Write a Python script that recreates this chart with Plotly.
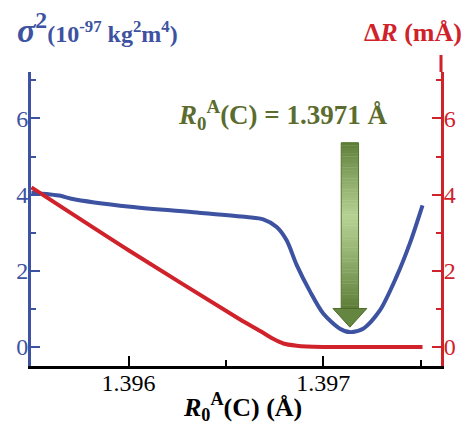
import plotly.graph_objects as go
import numpy as np

# ---- data ----
r0 = [1.395501, 1.395650, 1.395701, 1.396009, 1.396351, 1.396607, 1.396692, 1.396761,
      1.396812, 1.396864, 1.396932, 1.397000, 1.397086, 1.397137, 1.397205, 1.397291,
      1.397376, 1.397445, 1.397510]
sigma2 = [4.05, 3.97, 3.90, 3.68, 3.53, 3.41, 3.35, 3.15, 2.80, 2.15, 1.46, 0.88, 0.48,
          0.39, 0.48, 0.96, 1.84, 2.72, 3.72]

r0_red = [1.395501, 1.396000, 1.396573, 1.396676, 1.396740, 1.396795, 1.396864,
          1.396915, 1.397000, 1.397200, 1.397510]
deltaR = [4.19, 2.54, 0.72, 0.42, 0.22, 0.09, 0.03, 0.01, 0.0, 0.0, 0.0]

x_ticks = [1.396, 1.397]
x_tick_labels = ["1.396", "1.397"]
y_ticks = [0, 2, 4, 6]
best_label = "1.3971 Å"

BLUE = "#3d52a1"
RED = "#d0222b"
GREEN_TXT = "#5b6c2e"
FONT = "Liberation Serif"

fig = go.Figure()
fig.add_trace(go.Scatter(x=r0, y=sigma2, mode="lines", line=dict(color=BLUE, width=4, shape="spline", smoothing=0.8),
                         yaxis="y", showlegend=False, hoverinfo="skip"))
fig.add_trace(go.Scatter(x=r0_red, y=deltaR, mode="lines", line=dict(color=RED, width=4, shape="spline", smoothing=0.6),
                         yaxis="y2", showlegend=False, hoverinfo="skip"))

# ---- gradient arrow pointing at minimum ----
imin = int(np.argmin(sigma2))
xc = r0[imin]
tip = sigma2[imin] + 0.13
head_top = tip + 0.49
shaft_top = 5.36
shaft_hw = 0.0000445
head_hw = 0.000087

def lerp(c1, c2, t):
    a = [int(c1[i:i+2], 16) for i in (1, 3, 5)]
    b = [int(c2[i:i+2], 16) for i in (1, 3, 5)]
    return "rgb(%d,%d,%d)" % tuple(round(a[k] + (b[k] - a[k]) * t) for k in range(3))

DARK = "#5c7c36"
LIGHT = "#b6d293"
n = 60
for i in range(n):
    y0 = shaft_top - (shaft_top - head_top) * i / n
    y1 = shaft_top - (shaft_top - head_top) * (i + 1) / n
    f = (i + 0.5) / n
    peak = 0.45
    t = f / peak if f < peak else (1 - f) / (1 - peak)
    t = max(0.0, min(1.0, t)) ** 0.9
    fig.add_shape(type="rect", xref="x", yref="y", x0=xc - shaft_hw, x1=xc + shaft_hw, y0=y1, y1=y0 + 0.01,
                  fillcolor=lerp(DARK, LIGHT, t), line=dict(width=0), layer="above")
fig.add_shape(type="rect", xref="x", yref="y", x0=xc - shaft_hw, x1=xc + shaft_hw, y0=head_top, y1=shaft_top,
              line=dict(color="#56752f", width=1), fillcolor="rgba(0,0,0,0)", layer="above")
fig.add_shape(type="path", xref="x", yref="y",
              path=f"M {xc - head_hw} {head_top} L {xc + head_hw} {head_top} L {xc} {tip} Z",
              fillcolor="#658640", line=dict(color="#4f6c2b", width=1), layer="above")

# ---- axes ----
fig.update_layout(
    width=470, height=424,
    margin=dict(l=31, r=29, t=72, b=58, autoexpand=False),
    paper_bgcolor="white", plot_bgcolor="white",
    font=dict(family=FONT, size=23, color="black"),
    xaxis=dict(range=[1.395499, 1.397605], tickvals=x_ticks, ticktext=x_tick_labels, automargin=False,
               ticks="inside", ticklen=10, tickwidth=1.5, tickcolor="black", ticklabelstandoff=-7,
               minor=dict(dtick=0.0005, tick0=1.3955, ticks="inside", ticklen=6, tickwidth=1.5, tickcolor="black"),
               showline=True, linecolor="black", linewidth=2.5, showgrid=False, zeroline=False,
               tickfont=dict(size=24, color="black", family=FONT)),
    yaxis=dict(range=[-0.5, 7.22], tickvals=y_ticks, ticks="inside", ticklen=9, tickwidth=1.5, tickcolor=BLUE,
               automargin=False, ticklabelstandoff=-5,
               minor=dict(dtick=1, tick0=1, ticks="inside", ticklen=5, tickwidth=1.5, tickcolor=BLUE),
               showline=True, linecolor=BLUE, linewidth=3, showgrid=False, zeroline=False,
               tickfont=dict(size=24, color=BLUE, family=FONT)),
    yaxis2=dict(range=[-0.5, 7.22], tickvals=y_ticks, overlaying="y", side="right", automargin=False,
                ticks="inside", ticklen=9, tickwidth=1.5, tickcolor=RED, ticklabelstandoff=-5,
                minor=dict(dtick=1, tick0=1, ticks="inside", ticklen=5, tickwidth=1.5, tickcolor=RED),
                showline=True, linecolor=RED, linewidth=3, showgrid=False, zeroline=False,
                tickfont=dict(size=24, color=RED, family=FONT)),
)

# red axis extends slightly above plot
fig.add_shape(type="line", xref="paper", yref="paper", x0=1, x1=1, y0=1, y1=1.058,
              line=dict(color=RED, width=3))

# ---- texts ----
fig.add_annotation(xref="paper", yref="paper", x=-0.04, y=1.15, xanchor="left", yanchor="middle",
                   showarrow=False,
                   text="<b><i>σ</i><sup>2</sup></b><span style='font-size:24px'><b>(10<sup>-97</sup> kg<sup>2</sup>m<sup>4</sup>)</b></span>",
                   font=dict(family=FONT, size=34, color=BLUE))
fig.add_annotation(xref="paper", yref="paper", x=1.057, y=1.135, xanchor="right", yanchor="middle",
                   showarrow=False, text="<b>Δ<i>R</i> (mÅ)</b>",
                   font=dict(family=FONT, size=26, color=RED))
fig.add_annotation(xref="paper", yref="paper", x=0.516, y=-0.14, xanchor="center", yanchor="middle",
                   showarrow=False, text="<b><i>R</i><sub>0</sub><sup>A</sup>(C) (Å)</b>",
                   font=dict(family=FONT, size=26, color="black"))
fig.add_annotation(xref="paper", yref="paper", x=0.6136, y=0.853, xanchor="center", yanchor="middle",
                   showarrow=False, text=f"<b><i>R</i><sub>0</sub><sup>A</sup>(C) = {best_label}</b>",
                   font=dict(family=FONT, size=27, color=GREEN_TXT))

fig.write_html("out.html", config={"displayModeBar": False},
               post_script="document.body.style.margin='0px';")
